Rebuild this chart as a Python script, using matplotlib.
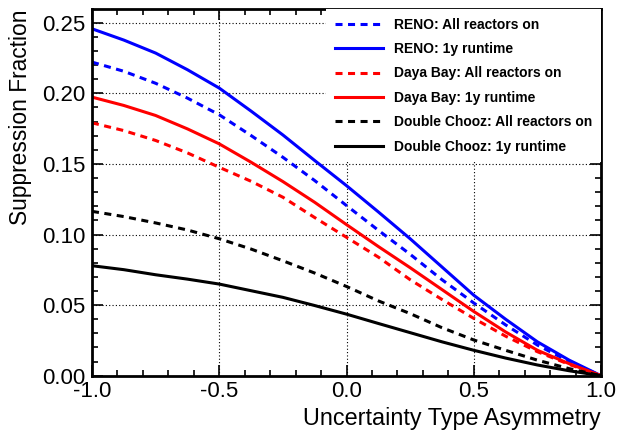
import matplotlib
matplotlib.use('Agg')
from matplotlib import pyplot as plt
from matplotlib.ticker import MultipleLocator

plt.rcParams['font.family'] = ['Liberation Sans', 'DejaVu Sans']

asimetria = [-1.0, -0.875, -0.75, -0.625, -0.5, -0.375, -0.25, -0.125, 0.0,
             0.125, 0.25, 0.375, 0.5, 0.625, 0.75, 0.875, 1.0]

reno_todos = [0.2221, 0.2156, 0.2071, 0.1966, 0.1848, 0.1701, 0.1547, 0.1382, 0.1205,
              0.103, 0.086, 0.068, 0.0515, 0.036, 0.0217, 0.010, 0.0]
reno_1ano = [0.2457, 0.2377, 0.2285, 0.2167, 0.2037, 0.1874, 0.1705, 0.1524, 0.1346,
             0.116, 0.097, 0.077, 0.057, 0.040, 0.024, 0.011, 0.0]
daya_todos = [0.1791, 0.1736, 0.1666, 0.1578, 0.1476, 0.1377, 0.1264, 0.1120, 0.0980,
              0.084, 0.068, 0.054, 0.0406, 0.028, 0.017, 0.008, 0.0]
daya_1ano = [0.1973, 0.1914, 0.1843, 0.1748, 0.1642, 0.1512, 0.1375, 0.1228, 0.1070,
             0.0915, 0.0765, 0.061, 0.0455, 0.031, 0.018, 0.0085, 0.0]
chooz_todos = [0.1164, 0.1127, 0.1082, 0.1032, 0.0970, 0.0897, 0.0814, 0.0727, 0.0632,
               0.053, 0.044, 0.034, 0.0253, 0.018, 0.011, 0.005, 0.0]
chooz_1ano = [0.0779, 0.0751, 0.0715, 0.0684, 0.0649, 0.0602, 0.0555, 0.0497, 0.0436,
              0.037, 0.0305, 0.024, 0.018, 0.0125, 0.0076, 0.0035, 0.0]

series = [
    (reno_todos, 'RENO: All reactors on', 'blue', '--'),
    (reno_1ano, 'RENO: 1y runtime', 'blue', '-'),
    (daya_todos, 'Daya Bay: All reactors on', 'red', '--'),
    (daya_1ano, 'Daya Bay: 1y runtime', 'red', '-'),
    (chooz_todos, 'Double Chooz: All reactors on', 'black', '--'),
    (chooz_1ano, 'Double Chooz: 1y runtime', 'black', '-'),
]

fig = plt.figure(figsize=(6.19, 4.34), dpi=100)
ax = fig.add_axes([0.1486, 0.1343, 0.8224, 0.8443])

for valores, nome, cor, estilo in series:
    linha, = ax.plot(asimetria, valores, color=cor, linestyle=estilo, linewidth=2.2, label=nome)
    if estilo == '--':
        linha.set_dashes((2.3, 1.8))

ax.set_xlim(-1.0, 1.0)
ax.set_ylim(0.0, 0.2595)
ax.xaxis.set_major_locator(MultipleLocator(0.5))
ax.xaxis.set_minor_locator(MultipleLocator(0.1))
ax.yaxis.set_major_locator(MultipleLocator(0.05))
ax.yaxis.set_minor_locator(MultipleLocator(0.01))
ax.xaxis.set_major_formatter(plt.FormatStrFormatter('%.1f'))
ax.yaxis.set_major_formatter(plt.FormatStrFormatter('%.2f'))

ax.tick_params(which='both', direction='in', top=True, right=True, labelsize=16, width=1.2)
ax.tick_params(which='major', length=8)
ax.tick_params(which='minor', length=4.3)
ax.tick_params(axis='y', pad=5)
ax.tick_params(axis='x', pad=3.5)
for lado in ax.spines.values():
    lado.set_linewidth(2)

ax.grid(True, which='major', color='black', linestyle=(0, (1, 2)), linewidth=0.8)

ax.set_xlabel('Uncertainty Type Asymmetry', fontsize=16.8, loc='right')
ax.xaxis.set_label_coords(1.0, -0.085)
ax.set_ylabel('Suppression Fraction', fontsize=16.4, loc='top')
ax.yaxis.set_label_coords(-0.118, 1.0)

leg = ax.legend(loc='upper right', borderaxespad=0, frameon=True, fancybox=False,
                facecolor='white', edgecolor='none', framealpha=1,
                prop={'weight': 'bold', 'size': 10}, handlelength=3.5,
                handletextpad=0.8, labelspacing=0.75, borderpad=0.6)

fig.savefig('out.png', dpi=100)
